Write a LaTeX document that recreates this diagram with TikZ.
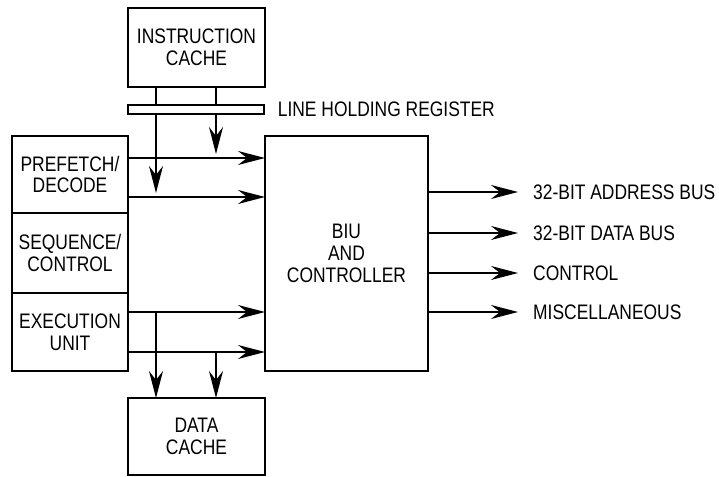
\documentclass[tikz,border=0pt]{standalone}
\usepackage{fontspec}
\setmainfont{Liberation Sans}[FakeStretch=0.83]
\usetikzlibrary{positioning, arrows.meta}
\tikzset{
	x=1pt, y=1pt, % one unit is one pixel of the drawing
	block/.style={draw, line width=2.4pt, outer sep=0pt, align=center, inner sep=0pt}, % the boxes
	bus/.style={line width=1.4pt}, % plain lines between the boxes
	feed/.style={bus, -{Stealth[length=27pt, width=14pt, inset=9pt]}}, % lines with a bold head
	busname/.style={anchor=west, inner sep=0pt}, % texts beside the lines
}

\begin{document}
\begin{tikzpicture}[font=\fontsize{21}{21.7}\selectfont]
	\useasboundingbox (0,0) rectangle (719,476);
			\node[block, minimum width=137, minimum height=79] at (196.5,428.5) (icache) {INSTRUCTION\\CACHE};
			\node[draw, line width=1.3pt, fill=white, minimum width=136, minimum height=9, inner sep=0pt] at (196,366.5) (lhr) {};
			\node[busname, right=13 of lhr] (lhrtext) {LINE HOLDING REGISTER};
			\node[block, minimum width=116, minimum height=77] at (70,301.5) (prefetch) {PREFETCH/\\DECODE};
			\node[block, minimum width=116, minimum height=80, below=0pt of prefetch] (sequence) {SEQUENCE/\\CONTROL};
			\node[block, minimum width=116, minimum height=78, below=0pt of sequence] (exec) {EXECUTION\\UNIT};
			\node[block, minimum width=163, minimum height=235] at (346.5,222.5) (biu) {BIU\\AND\\CONTROLLER};
			\node[block, minimum width=137, minimum height=77] at (196.5,39.5) (dcache) {DATA\\CACHE};
	% rows of the lines
	\coordinate (ra) at (0,318);
	\coordinate (rb) at (0,279);
	\coordinate (rc) at (0,164);
	\coordinate (rd) at (0,124);
	\coordinate (ca) at (156,0);
	\coordinate (cb) at (216,0);
	% instruction cache through the register
	\draw[bus] (icache.south -| ca) -- (lhr.north -| ca);
	\draw[bus] (icache.south -| cb) -- (lhr.north -| cb);
	\draw[feed] (lhr.south -| ca) -- ([yshift=4]ca |- rb);
	\draw[feed] (lhr.south -| cb) -- ([yshift=4]cb |- ra);
	% into the BIU
	\draw[feed] (prefetch.east |- ra) -- (biu.west |- ra);
	\draw[feed] (prefetch.east |- rb) -- (biu.west |- rb);
	\draw[feed] (exec.east |- rc) -- (biu.west |- rc);
	\draw[feed] (exec.east |- rd) -- (biu.west |- rd);
	% down to the data cache
	\draw[feed] (ca |- rc) -- (dcache.north -| ca);
	\draw[feed] (cb |- rd) -- (dcache.north -| cb);
	% out of the BIU
	\node[busname] at (533,284) (addr) {32-BIT ADDRESS BUS};
	\node[busname] at (533,243) (data) {32-BIT DATA BUS};
	\node[busname] at (533,203) (ctrl) {CONTROL};
	\node[busname] at (533,164) (misc) {MISCELLANEOUS};
	\foreach \out in {addr, data, ctrl, misc}
		\draw[feed] (biu.east |- \out.west) -- ([xshift=-15]\out.west);
\end{tikzpicture}
\end{document}
